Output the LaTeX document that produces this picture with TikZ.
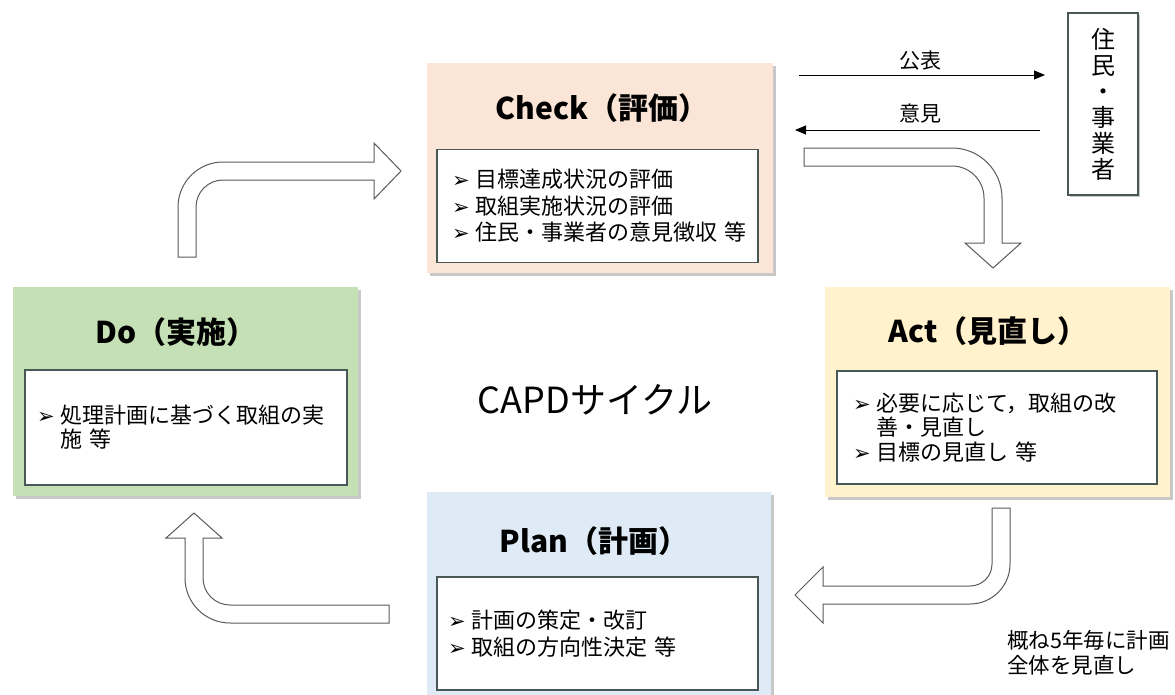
\documentclass[tikz,border=0pt]{standalone}
\usepackage{fontspec}
\setmainfont{Noto Sans CJK JP}
\newfontfamily\dejavu{DejaVu Sans}
\usetikzlibrary{arrows.meta,shadows}
\definecolor{chkfill}{HTML}{FBE5D6}
\definecolor{dofill}{HTML}{C5E0B4}
\definecolor{actfill}{HTML}{FFF2CC}
\definecolor{planfill}{HTML}{DEEBF7}
\definecolor{boxedge}{HTML}{4A5757}
\definecolor{arredge}{HTML}{5A5A5A}
\newcommand{\bul}{\makebox[23pt][l]{\dejavu\fontsize{21}{21}\selectfont ➢}}
\newcommand{\ind}{\hspace*{23pt}}
\begin{document}
\begin{tikzpicture}[x=1pt,y=-1pt,
  outerbox/.style={inner sep=0pt, drop shadow={shadow xshift=2.5pt, shadow yshift=-2.5pt, opacity=0.3, fill=black!70}},
  innerbox/.style={draw=boxedge, line width=1.2pt, fill=white, align=left, inner ysep=0pt,
     font=\fontsize{22}{26.5}\selectfont},
  titletext/.style={font=\bfseries\fontsize{30}{30}\selectfont, inner sep=0pt},
  blockarrow/.style={draw=arredge, line width=1pt, fill=white, line join=miter},
  thinarrow/.style={draw=black, line width=0.9pt, -{Triangle[length=11pt,width=9pt]}},
  smalltext/.style={font=\fontsize{21}{21}\selectfont, inner sep=0pt}
]
\useasboundingbox (0,0) rectangle (1175,694);
\fill[white] (0,0) rectangle (1175,694);

% ---------- outer boxes ----------
\node[outerbox, fill=chkfill, minimum width=346pt, minimum height=210pt] (check) at (600,168) {};
\node[outerbox, fill=dofill, minimum width=345pt, minimum height=209pt] (do) at (185.5,391.5) {};
\node[outerbox, fill=actfill, minimum width=345pt, minimum height=210pt] (act) at (997.5,392) {};
\node[outerbox, fill=planfill, minimum width=344pt, minimum height=210pt] (plan) at (599,597) {};

% ---------- titles ----------
\node[titletext] (chkt) at (602,108) {Check（評価）};
\node[titletext] (dot) at (176,332) {Do（実施）};
\node[titletext] (actt) at (988,331) {Act（見直し）};
\node[titletext] (plant) at (594,541) {Plan（計画）};

% ---------- inner boxes ----------
\node[innerbox, minimum width=321pt, minimum height=113pt, inner xsep=15pt, text width=291pt] (chkin) at (597.5,206)
  {\bul 目標達成状況の評価\\ \bul 取組実施状況の評価\\ \bul 住民・事業者の意見徴収~等};
\node[innerbox, minimum width=322pt, minimum height=115pt, inner xsep=12pt, text width=298pt,
  font=\fontsize{22}{24}\selectfont] (doin) at (186,427.5)
  {\bul 処理計画に基づく取組の実\\ \ind 施~等};
\node[innerbox, minimum width=320pt, minimum height=113pt, inner xsep=16pt, text width=288pt,
  font=\fontsize{22}{24.5}\selectfont] (actin) at (997,427.5)
  {\bul 必要に応じて，取組の改\\ \ind 善・見直し\\ \bul 目標の見直し~等};
\node[innerbox, minimum width=321pt, minimum height=113pt, inner xsep=11pt, text width=299pt,
  font=\fontsize{22}{27}\selectfont] (planin) at (597.5,633.5)
  {\bul 計画の策定・改訂\\ \bul 取組の方向性決定~等};

% ---------- center label ----------
\node[font=\fontsize{36}{36}\selectfont, inner sep=0pt] (capd) at (595,400) {CAPDサイクル};

% ---------- residents box ----------
\node[draw=boxedge, line width=1.2pt, fill=white, minimum width=70pt, minimum height=182pt,
  align=center, inner sep=0pt, font=\fontsize{24}{26}\selectfont,
  drop shadow={shadow xshift=1.5pt, shadow yshift=-1.5pt, opacity=0.3, fill=black!70}] (res) at (1103,104)
  {住\\民\\・\\事\\業\\者};

% ---------- thin arrows ----------
\coordinate (p1s) at (799,75);
\coordinate (p1e) at (1045,75);
\coordinate (p2s) at (1040,130);
\coordinate (p2e) at (795,130);
\draw[thinarrow] (p1s) -- (p1e);
\draw[thinarrow] (p2s) -- (p2e);
\node[smalltext] (kohyo) at (920,61) {公表};
\node[smalltext] (iken) at (920,114) {意見};

% ---------- block arrows ----------
% Check -> Act
\draw[blockarrow] (804,148) -- (952,148) .. controls (979.6,148) and (1002,170.4) .. (1002,198)
  -- (1002,243) -- (1021,243) -- (993,268) -- (965,243) -- (984,243) -- (984,198)
  .. controls (984,180.3) and (969.7,166) .. (952,166) -- (804,166) -- cycle;
% Act -> Plan
\draw[blockarrow] (1010,508) -- (1010,564) .. controls (1010,586.1) and (992.1,604) .. (970,604)
  -- (823,604) -- (823,623) -- (795,595) -- (823,567) -- (823,586) -- (970,586)
  .. controls (982.2,586) and (992,576.2) .. (992,564) -- (992,508) -- cycle;
% Plan -> Do
\draw[blockarrow] (389,623) -- (230,623) .. controls (205.2,623) and (185,602.9) .. (185,578)
  -- (185,538) -- (166,538) -- (194,513) -- (222,538) -- (203,538) -- (203,578)
  .. controls (203,592.9) and (215.1,605) .. (230,605) -- (389,605) -- cycle;
% Do -> Check
\draw[blockarrow] (178,257) -- (178,207) .. controls (178,182.2) and (198.2,162) .. (223,162)
  -- (374,162) -- (374,143) -- (401,171) -- (374,199) -- (374,180) -- (223,180)
  .. controls (208.1,180) and (196,192.1) .. (196,207) -- (196,257) -- cycle;

% ---------- note ----------
\node[font=\fontsize{21.5}{25}\selectfont, align=left, inner sep=0pt, anchor=north west] (note) at (1007,630)
  {概ね5年毎に計画\\全体を見直し};
\end{tikzpicture}
\end{document}
